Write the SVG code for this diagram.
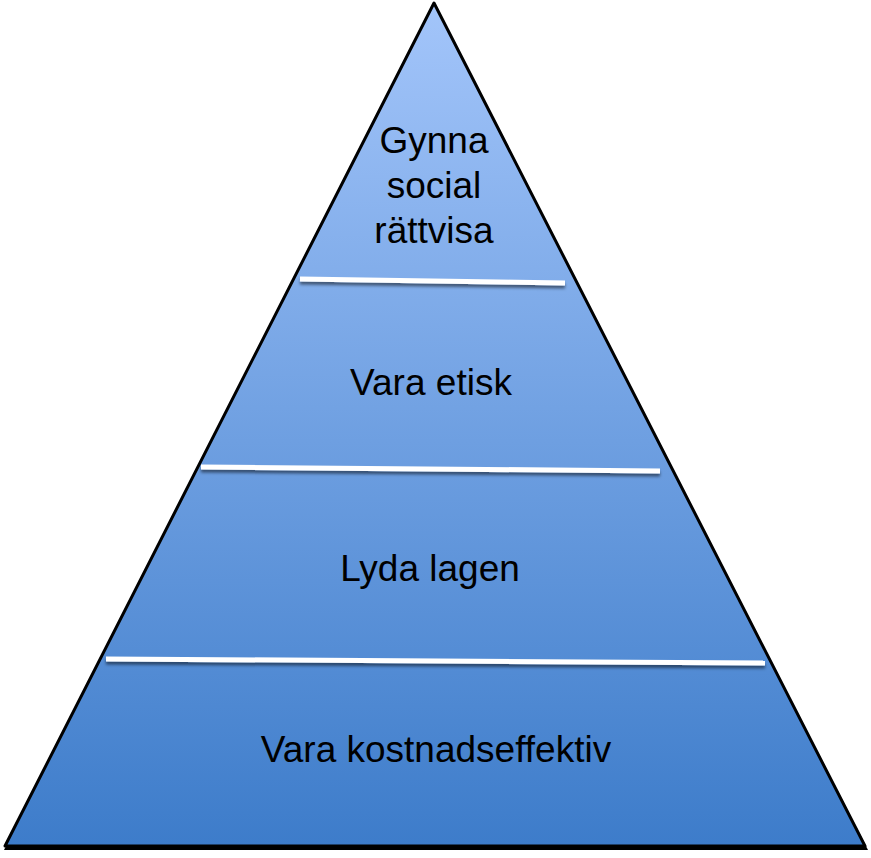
<svg xmlns="http://www.w3.org/2000/svg" width="871" height="858" viewBox="0 0 871 858">
<defs>
<linearGradient id="g" x1="0" y1="0" x2="0" y2="1">
<stop offset="0" stop-color="#a3c5fa"/>
<stop offset="1" stop-color="#3d7cca"/>
</linearGradient>
<filter id="sh" x="-10%" y="-10%" width="120%" height="130%">
<feDropShadow dx="0" dy="3" stdDeviation="1.5" flood-color="#000" flood-opacity="0.5"/>
</filter>
<style>
.t{font-family:"Liberation Sans",Arial,sans-serif;font-size:37px;fill:#000;text-anchor:middle}
.sep{stroke:#fff;stroke-width:5;fill:none}
</style>
</defs>
<g id="pyramid">
<polygon points="435,6 868,850 4,850" fill="#000"/>
<polygon points="434,3 865,846 5,846" fill="url(#g)" stroke="#000" stroke-width="3" stroke-linejoin="round"/>
</g>
<g id="connectors" filter="url(#sh)">
<line class="sep" x1="300" y1="279" x2="565" y2="283"/>
<line class="sep" x1="201" y1="467" x2="660" y2="471"/>
<line class="sep" x1="106" y1="659" x2="765" y2="663"/>
</g>
<g id="level4"><text class="t" x="434" y="153">Gynna</text><text class="t" x="434" y="198">social</text><text class="t" x="434" y="243">rättvisa</text></g>
<g id="level3"><text class="t" x="431" y="395">Vara etisk</text></g>
<g id="level2"><text class="t" x="430" y="581">Lyda lagen</text></g>
<g id="level1"><text class="t" x="436" y="762">Vara kostnadseffektiv</text></g>
</svg>
